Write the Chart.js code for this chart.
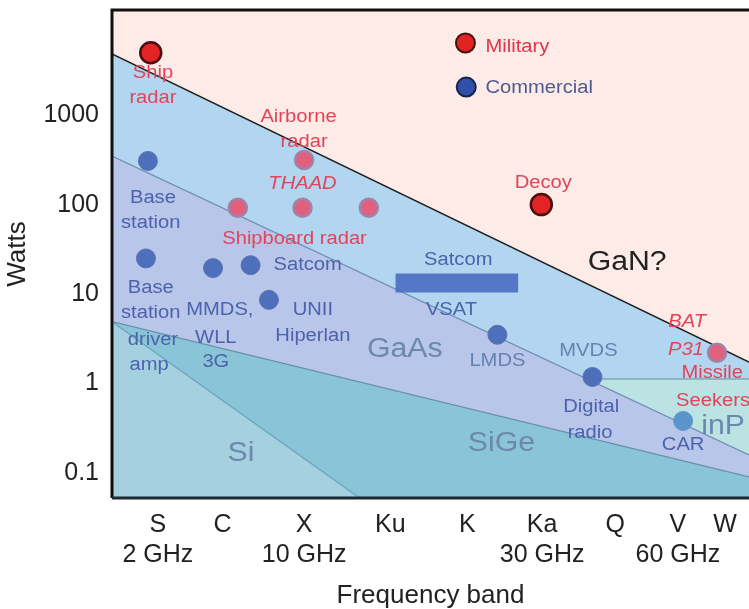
<!DOCTYPE html>
<html>
<head>
<meta charset="utf-8">
<title>Watts vs frequency band</title>
<script src="https://cdn.jsdelivr.net/npm/chart.js@4.4.1/dist/chart.umd.min.js"></script>
<style>
body { margin:0; background:#fff; }
#wrap { width:749px; height:609px; }
</style>
</head>
<body>
<div id="wrap"><canvas id="chart" width="749" height="609"></canvas></div>
<script>

// bands on the bottom axis (position = place along the axis)
var bands = ['S','C','X','Ku','K','Ka','Q','V','W'];
var bandGHz = ['2 GHz','','10 GHz','','','30 GHz','','60 GHz',''];
var bandPos = [1, 1.81, 2.83, 3.91, 4.875, 5.81, 6.725, 7.51, 8.1];
var wattTicks = [0.1, 1, 10, 100, 1000];

// technology limits, [band position, watts]
var ganEdge = [[0.425, 4840], [8.4, 1.73]];
var gaasTop = [[0.425, 350], [8.4, 0.158]];
var sigeTop = [[0.425, 4.9], [8.4, 0.0897]];
var siTop = [[0.425, 4.9], [3.525, 0.0522]];
var inpTop = [[6.44, 1.12], [8.4, 1.12]];

// applications
var military = [[0.91, 5000], [5.8, 100]];                       // ship radar, decoy
var militaryLow = [[2.83, 315], [2.0, 92], [2.81, 92], [3.64, 92], [8.0, 2.2]];
var commercial = [[0.875, 308], [0.85, 25], [1.69, 19.5], [2.16, 21], [2.39, 8.6], [5.25, 3.5], [6.44, 1.18]];
var carPoint = [[7.575, 0.38]];
var satcomVsat = [[3.975, 13.3], [5.51, 13.3]];
var legendMarks = [[4.85, 6430], [4.86, 2065]];

// texts [text, band position, watts]
var redNotes = [['Ship',0.9375,2965],['radar',0.9375,1556],['Airborne',2.76,955],['radar',2.83,501],
  ['Shipboard radar',2.71,41.2],['Decoy',5.825,175],['Missile',7.94,1.31],['Seekers',7.95,0.635]];
var redItalic = [['THAAD',2.81,170],['BAT',7.625,4.86],['P31',7.61,2.37]];
var blueNotes = [['Base',0.9375,118.6],['station',0.91,62.2],['Base',0.91,11.7],['station',0.91,6.12],
  ['driver',0.9375,3.05],['amp',0.89,1.61],['MMDS,',1.775,6.62],['WLL',1.725,3.22],['3G',1.725,1.73],
  ['Satcom',2.875,21.1],['UNII',2.94,6.62],['Hiperlan',2.94,3.39],['Satcom',4.76,24],['VSAT',4.675,6.62],
  ['Digital',6.425,0.545],['radio',6.41,0.279],['CAR',7.575,0.205]];
var greyNotes = [['LMDS',5.25,1.78],['MVDS',6.39,2.3]];
var regionNotes = [['GaAs',4.09,2.37],['SiGe',5.3,0.215],['Si',2.04,0.162],['inP',8.075,0.325]];
var ganNote = [['GaN?',6.875,22.2]];
var legendNotes = [['Military',5.1,5800],['Commercial',5.1,2014]];

var FONT = '"Liberation Sans", Arial, Helvetica, sans-serif';

function pts(a) { return a.map(function(p){ return {x:p[0], y:p[1]}; }); }

function edge(data, fillColor, lineColor, width, order) {
	return { data: pts(data), fill: 'start', backgroundColor: fillColor, borderColor: lineColor,
		borderWidth: width, pointRadius: 0, tension: 0, order: order };
}

function dots(data, fillColor, lineColor, r, w, order) {
	return { data: pts(data), showLine: false, pointRadius: r, pointBackgroundColor: fillColor,
		pointBorderColor: lineColor, pointBorderWidth: w, order: order };
}

var bgPlugin = {
	id: 'bg',
	beforeDraw: function(chart) {
		var c = chart.ctx, a = chart.chartArea;
		c.save();
		c.fillStyle = '#fff';
		c.fillRect(0, 0, chart.width, chart.height);
		c.fillStyle = '#fcebe6';
		c.fillRect(a.left, a.top, a.right - a.left, a.bottom - a.top);
		c.restore();
	}
};

var notesPlugin = {
	id: 'notes',
	afterDatasetsDraw: function(chart) {
		var c = chart.ctx, a = chart.chartArea, xs = chart.scales.x, ys = chart.scales.y;
		c.save();
		c.beginPath();
		c.rect(a.left, a.top, a.right - a.left, a.bottom - a.top);
		c.clip();
		function put(list, font, color, align) {
			c.font = font;
			c.fillStyle = color;
			c.textAlign = align || 'center';
			c.textBaseline = 'middle';
			list.forEach(function(n) {
				c.save();
				c.translate(xs.getPixelForValue(n[1]), ys.getPixelForValue(n[2]));
				c.scale(1.12, 1);
				c.fillText(n[0], 0, 0);
				c.restore();
			});
		}
		put(redNotes, '18px ' + FONT, '#e2445a');
		put(redItalic, 'italic 18px ' + FONT, '#e2445a');
		put(blueNotes, '18px ' + FONT, '#4d62ad');
		put(greyNotes, '18px ' + FONT, '#6682b0');
		put(regionNotes, '27px ' + FONT, '#6c88ac');
		put(ganNote, '27px ' + FONT, '#222');
		put(legendNotes.slice(0,1), '18px ' + FONT, '#e2344a', 'left');
		put(legendNotes.slice(1), '18px ' + FONT, '#4f5a92', 'left');
		c.restore();
	}
};

var framePlugin = {
	id: 'frame',
	afterDraw: function(chart) {
		var c = chart.ctx, a = chart.chartArea;
		c.save();
		c.lineWidth = 3;
		c.strokeStyle = '#111';
		c.beginPath();
		c.moveTo(a.right, a.top);
		c.lineTo(a.left, a.top);
		c.lineTo(a.left, a.bottom);
		c.stroke();
		c.strokeStyle = '#1d2b30';
		c.beginPath();
		c.moveTo(a.left, a.bottom);
		c.lineTo(a.right, a.bottom);
		c.stroke();
		c.restore();
	}
};

var legendDots = dots(legendMarks, ['#e02424', '#2f4fa8'], ['#4a1010', '#18224a'], 9.5, 2, 1);

var chart = new Chart(document.getElementById('chart'), {
	type: 'line',
	data: {
		datasets: [
			edge(ganEdge, '#b2d6f0', '#1e1e1e', 1.5, 10),
			edge(inpTop, '#bce3e3', '#5f8fa0', 1.2, 9),
			edge(gaasTop, '#b8c6ea', '#6f8db4', 1.2, 8),
			edge(sigeTop, '#89c5d6', '#6a8fae', 1.2, 7),
			edge(siTop, '#a4d0df', '#6aa3bb', 1.2, 6),
			{ data: pts(satcomVsat), borderColor: 'rgba(72,106,192,0.88)', borderWidth: 19,
			  borderCapStyle: 'butt', pointRadius: 0, fill: false, order: 5 },
			dots(commercial, '#4e6fbc', '#5a72b0', 9.5, 1, 4),
			dots(carPoint, '#5a94cc', '#6a98c4', 9.5, 1, 4),
			dots(militaryLow, '#e2607e', '#9a86a8', 9, 2.5, 3),
			dots(military, '#e42424', '#4a1010', 10.5, 2.5, 2),
			legendDots
		]
	},
	options: {
		responsive: false,
		animation: false,
		devicePixelRatio: 1,
		layout: { autoPadding: false, padding: { top: 10, right: 0, left: 0, bottom: 0 } },
		plugins: { legend: { display: false }, tooltip: { enabled: false } },
		scales: {
			x: {
				type: 'linear', min: 0.425, max: 8.4, bounds: 'data',
				grid: { display: false, drawTicks: false }, border: { display: false },
				afterBuildTicks: function(s) { s.ticks = bandPos.map(function(v){ return {value: v}; }); },
				afterFit: function(s) { s.height = 111; s.paddingLeft = 0; s.paddingRight = 0; },
				ticks: { autoSkip: false, maxRotation: 0, padding: 12, color: '#222',
					font: { family: FONT, size: 25 },
					callback: function(v, i) { return [bands[i], bandGHz[i]]; } },
				title: { display: true, text: 'Frequency band', color: '#222',
					font: { family: FONT, size: 26, lineHeight: 1 }, padding: { top: 0, bottom: 0 } }
			},
			y: {
				type: 'logarithmic', min: 0.0522, max: 15040, bounds: 'data',
				grid: { display: false, drawTicks: false }, border: { display: false },
				afterBuildTicks: function(s) { s.ticks = wattTicks.map(function(v){ return {value: v}; }); },
				afterFit: function(s) { s.width = 112; s.paddingTop = 0; s.paddingBottom = 0; },
				ticks: { padding: 13, color: '#222', font: { family: FONT, size: 25 },
					callback: function(v) { return String(v); } },
				title: { display: true, text: 'Watts', color: '#222',
					font: { family: FONT, size: 26, lineHeight: 1 }, padding: { top: 5, bottom: 0 } }
			}
		}
	},
	plugins: [bgPlugin, notesPlugin, framePlugin]
});
</script>
</body>
</html>
